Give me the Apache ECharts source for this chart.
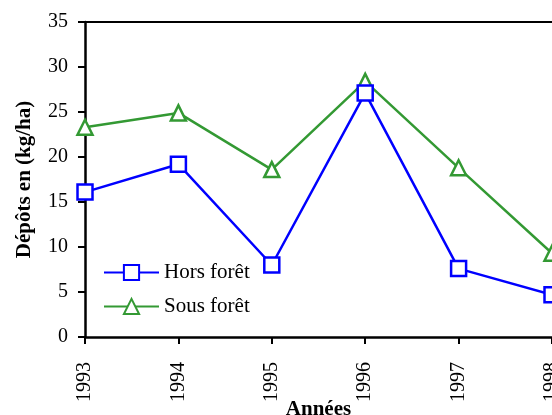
<!DOCTYPE html>
<html>
<head>
<meta charset="utf-8">
<script src="https://cdn.jsdelivr.net/npm/echarts@6/dist/echarts.min.js"></script>
<style>
  html, body { margin: 0; padding: 0; background: #fff; }
  #chart { width: 552px; height: 415px; }
</style>
</head>
<body>
<div id="chart"></div>
<script>
  // données
  var annees = ['1993', '1994', '1995', '1996', '1997', '1998'];
  var horsForet = [16.1, 19.2, 8.0, 27.1, 7.6, 4.7];
  var sousForet = [23.3, 24.9, 18.6, 28.4, 18.8, 9.3];

  var serif = '"Liberation Serif", "DejaVu Serif", serif';
  var myChart = echarts.init(document.getElementById('chart'));

  var option = {
    animation: false,
    grid: { left: 85, right: 0, top: 22, bottom: 78, containLabel: false, outerBoundsMode: 'none' },
    legend: {
      orient: 'vertical',
      left: 98,
      top: 257,
      itemWidth: 55,
      itemHeight: 19,
      itemGap: 13,
      textStyle: { fontFamily: serif, fontSize: 21, color: '#000' },
      data: ['Hors forêt', 'Sous forêt']
    },
    xAxis: [
      {
        type: 'category',
        data: annees,
        boundaryGap: false,
        name: 'Années',
        nameLocation: 'middle',
        nameGap: 62,
        nameMoveOverlap: false,
        nameTextStyle: { fontFamily: serif, fontSize: 21, fontWeight: 'bold', color: '#000' },
        axisLine: { lineStyle: { color: '#000', width: 2.5 } },
        axisTick: { show: true, length: 7, lineStyle: { color: '#000', width: 2 } },
        axisLabel: { rotate: 90, margin: 25, fontFamily: serif, fontSize: 20, color: '#000' },
        splitLine: { show: false }
      },
      {
        type: 'category',
        data: annees,
        boundaryGap: false,
        position: 'top',
        axisLine: { lineStyle: { color: '#000', width: 2 } },
        axisTick: { show: false },
        axisLabel: { show: false },
        splitLine: { show: false }
      }
    ],
    yAxis: {
      type: 'value',
      min: 0,
      max: 35,
      interval: 5,
      name: 'Dépôts en (kg/ha)',
      nameLocation: 'middle',
      nameGap: 50,
      nameMoveOverlap: false,
      nameTextStyle: { fontFamily: serif, fontSize: 21, fontWeight: 'bold', color: '#000' },
      axisLine: { show: true, lineStyle: { color: '#000', width: 2.5 } },
      axisTick: { show: true, length: 7, lineStyle: { color: '#000', width: 2 } },
      axisLabel: { margin: 17, fontFamily: serif, fontSize: 20, color: '#000' },
      splitLine: { show: false }
    },
    series: [
      {
        name: 'Hors forêt',
        type: 'line',
        data: horsForet,
        symbol: 'rect',
        symbolSize: 15,
        color: '#0000ff',
        lineStyle: { color: '#0000ff', width: 2.5 },
        itemStyle: { color: '#fff', borderColor: '#0000ff', borderWidth: 2.5 },
        clip: false,
        z: 3
      },
      {
        name: 'Sous forêt',
        type: 'line',
        data: sousForet,
        symbol: 'triangle',
        symbolSize: 15,
        color: '#339933',
        lineStyle: { color: '#339933', width: 2.5 },
        itemStyle: { color: '#fff', borderColor: '#339933', borderWidth: 2.5 },
        clip: false,
        z: 2
      }
    ]
  };

  myChart.setOption(option);
</script>
</body>
</html>
